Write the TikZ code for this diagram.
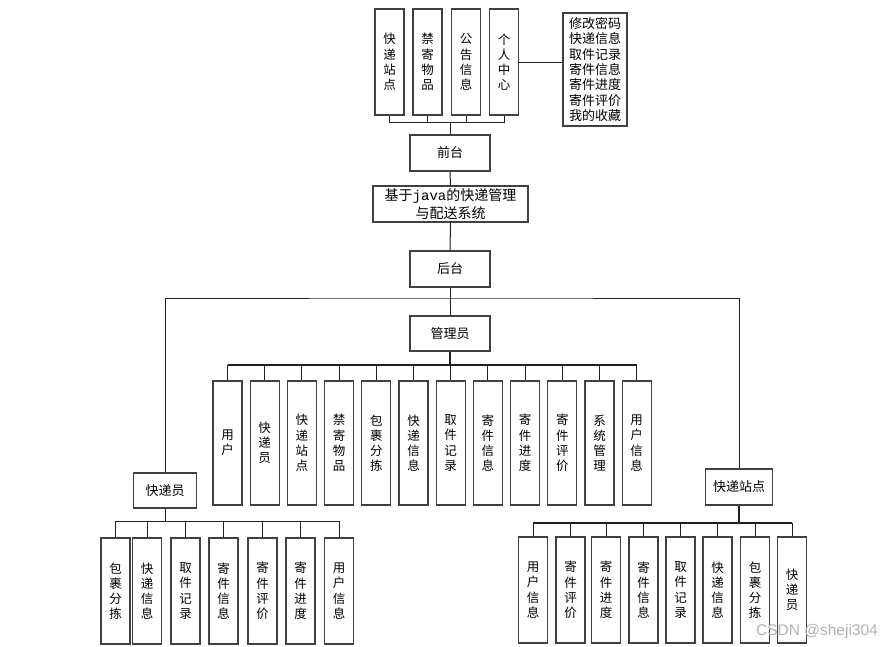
\documentclass[tikz,border=0pt]{standalone}
\usepackage{fontspec}
\newfontfamily\cjk{Noto Sans CJK SC}
\newfontfamily\monof{Liberation Mono}
\setsansfont{Liberation Sans}
\definecolor{boxc}{HTML}{404040}
\definecolor{linec}{HTML}{202020}
\begin{document}
\begin{tikzpicture}[x=1pt,y=-1pt,
  bx/.style={draw=boxc, line width=1.3pt, fill=white, inner sep=0pt, align=center,
    font=\cjk\fontsize{12.5}{15.2}\selectfont},
  vb/.style={bx, minimum width=29pt, minimum height=#1},
  hb/.style={bx, font=\cjk\fontsize{13}{15}\selectfont},
  conn/.style={draw=linec, line width=1pt},
  bus/.style={draw=linec, line width=1.8pt}]
\useasboundingbox (0,0) rectangle (884,646);

% ---------- front end ----------
\node[vb=106pt] (t1) at (389.5,62) {快\\递\\站\\点};
\node[vb=106pt] (t2) at (427.5,62) {禁\\寄\\物\\品};
\node[vb=106pt] (t3) at (466,62) {公\\告\\信\\息};
\node[vb=106pt] (t4) at (504,62) {个\\人\\中\\心};
\node[bx, minimum width=64pt, minimum height=113pt, font=\cjk\fontsize{13}{15.4}\selectfont] (gr) at (595,69.5)
  {修改密码\\快递信息\\取件记录\\寄件信息\\寄件进度\\寄件评价\\我的收藏};
\node[hb, minimum width=80pt, minimum height=36pt] (qt) at (450,153) {前台};
\node[bx, minimum width=155pt, minimum height=36pt, font=\cjk\fontsize{14}{18.5}\selectfont]
  (sys) at (450.5,204) {基于{\monof\fontsize{14}{18.5}\selectfont java}的快递管理\\与配送系统};
\node[hb, minimum width=80pt, minimum height=36pt] (ht) at (450,269) {后台};
\node[hb, minimum width=80pt, minimum height=35pt] (gly) at (450,333.5) {管理员};
\node[hb, minimum width=63pt, minimum height=35pt] (kdy) at (165,490.5) {快递员};
\node[hb, minimum width=67pt, minimum height=36pt] (zd) at (739,487) {快递站点};

\coordinate (tb) at (450,122);
\coordinate (fb) at (450,298);
\coordinate (ab) at (450,365);
\coordinate (lb) at (165,521);
\coordinate (rb) at (739,523);

\foreach \n in {t1,t2,t3,t4} \draw[conn] (\n.south) |- (tb);
\draw[conn] (tb) -- (qt.north);
\draw[conn] (t4.east) -- (t4.east -| gr.west);
\draw[conn] (qt.south) -- (sys.north);
\draw[conn] (sys.south) -- (ht.north);
\draw[conn] (ht.south) -- (gly.north);
\draw[conn] (kdy.north) |- (fb) -| (zd.north);

% ---------- admin children ----------
\foreach \t [count=\i] in {{用\\户},{快\\递\\员},{快\\递\\站\\点},{禁\\寄\\物\\品},{包\\裹\\分\\拣},
  {快\\递\\信\\息},{取\\件\\记\\录},{寄\\件\\信\\息},{寄\\件\\进\\度},{寄\\件\\评\\价},
  {系\\统\\管\\理},{用\\户\\信\\息}} {
  \pgfmathsetmacro\xx{227.5+37.2*(\i-1)}
  \node[vb=124pt] (a\i) at (\xx,443) {\t};
  \draw[conn] (a\i.north) |- (ab);
}
\draw[bus] (a1.north |- ab) -- (a12.north |- ab);
\draw[bus] (gly.south) -- (ab);

% ---------- courier children ----------
\foreach \x/\t [count=\i] in {115.5/{包\\裹\\分\\拣},147/{快\\递\\信\\息},185.5/{取\\件\\记\\录},
  223.5/{寄\\件\\信\\息},262.5/{寄\\件\\评\\价},300.5/{寄\\件\\进\\度},339/{用\\户\\信\\息}} {
  \node[vb=106pt] (l\i) at (\x,591) {\t};
  \draw[conn] (l\i.north) |- (lb);
}
\draw[conn] (kdy.south) -- (lb);

% ---------- station children ----------
\foreach \x/\t [count=\i] in {533/{用\\户\\信\\息},570.5/{寄\\件\\评\\价},606/{寄\\件\\进\\度},
  643.5/{寄\\件\\信\\息},680.5/{取\\件\\记\\录},717.5/{快\\递\\信\\息},755/{包\\裹\\分\\拣},792/{快\\递\\员}} {
  \node[vb=106pt] (r\i) at (\x,590) {\t};
  \draw[conn] (r\i.north) |- (rb);
}
\draw[bus] (r1.north |- rb) -- (r8.north |- rb);
\draw[bus, line width=2.5pt] (zd.south) -- (rb);

\node[font=\sffamily\fontsize{15.5}{15.5}\selectfont, text=black!30] (wm) at (817,631) {CSDN @sheji304};
\end{tikzpicture}
\end{document}
